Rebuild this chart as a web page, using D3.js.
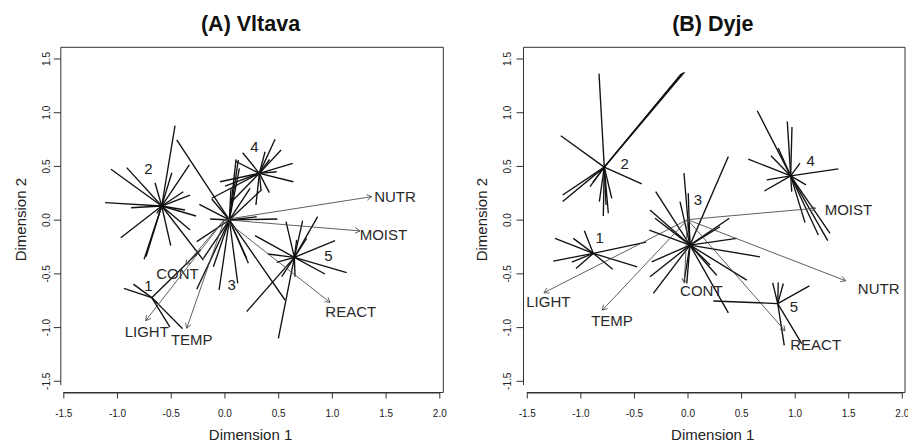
<!DOCTYPE html>
<html>
<head>
<meta charset="utf-8">
<script src="https://cdn.jsdelivr.net/npm/d3@7"></script>
<style>
  html, body { margin: 0; padding: 0; background: #fff; }
  svg { display: block; font-family: "Liberation Sans", Arial, Helvetica, sans-serif; }
</style>
</head>
<body>
<svg id="chart" width="908" height="443"></svg>
<script>
// ---- NMDS ordination: site scores, cluster centroids and fitted environmental vectors ----

const groupNames = ["1", "2", "3", "4", "5"];
const vectorNames = ["NUTR", "MOIST", "REACT", "LIGHT", "TEMP", "CONT"];

const xTicks = [-1.5, -1.0, -0.5, 0.0, 0.5, 1.0, 1.5, 2.0];
const xTickLabels = ["-1.5", "-1.0", "-0.5", "0.0", "0.5", "1.0", "1.5", "2.0"];
const yTicks = [-1.5, -1.0, -0.5, 0.0, 0.5, 1.0, 1.5];
const yTickLabels = ["-1.5", "-1.0", "-0.5", "0.0", "0.5", "1.0", "1.5"];

// (A) Vltava
const vltavaCentroids = [[-0.677, -0.726], [-0.584, 0.127], [0.046, -0.003], [0.325, 0.431], [0.651, -0.351]];
const vltavaSites = [
  [[-0.936, -0.640], [-0.848, -0.600], [-0.507, -1.000], [-0.389, -1.016], [-0.220, -0.280], [-0.620, -0.780]],
  [[-0.460, 0.875], [-1.056, 0.469], [-0.910, 0.484], [-0.327, 0.509], [-0.490, 0.437], [-0.646, 0.344],
   [-0.383, 0.260], [-0.320, 0.229], [-1.111, 0.158], [-0.869, 0.111], [-0.264, 0.034], [-0.367, 0.090],
   [-0.320, -0.096], [-0.196, -0.376], [-0.500, -0.242], [-0.748, -0.369], [-0.730, -0.345], [-0.965, -0.168],
   [-0.630, 0.059]],
  [[-0.444, 0.743], [-0.234, 0.143], [-0.134, 0.006], [0.108, 0.561], [0.061, 0.292], [0.139, 0.478],
   [-0.118, 0.192], [0.347, 0.280], [0.238, 0.290], [0.129, 0.555], [0.493, 0.006], [0.300, 0.027],
   [-0.258, -0.205], [-0.196, -0.360], [-0.258, -0.648], [-0.050, -0.655], [0.124, -0.593], [0.207, -0.360],
   [0.564, -0.748], [-0.103, -0.438], [0.223, -0.406]],
  [[0.471, 0.748], [0.378, 0.632], [0.527, 0.648], [0.170, 0.623], [0.099, 0.546], [0.636, 0.524],
   [0.487, 0.446], [0.641, 0.353], [0.418, 0.251], [0.293, 0.136], [0.340, 0.280], [-0.041, 0.353],
   [0.006, 0.313], [-0.118, 0.199], [0.052, 0.152], [0.420, 0.560]],
  [[0.728, -0.009], [0.868, 0.028], [1.030, -0.195], [1.138, -0.493], [0.936, -0.506], [0.285, -0.149],
   [0.403, -0.320], [0.486, -0.397], [0.573, -0.019], [0.502, -1.105], [0.207, -0.856], [0.533, -0.531],
   [0.657, -0.531], [0.672, -0.189], [0.765, -0.174]]
];
const vltavaGroupLabelXY = [[-0.708, -0.617], [-0.708, 0.478], [0.068, -0.608], [0.279, 0.680], [0.967, -0.338]];
const vltavaVectorHeads = [[1.371, 0.214], [1.262, -0.105], [0.983, -0.770], [-0.733, -0.940], [-0.351, -1.011], [-0.360, -0.420]];
const vltavaVectorLabelXY = [[1.588, 0.214], [1.480, -0.143], [1.176, -0.857], [-0.723, -1.043], [-0.304, -1.120], [-0.438, -0.506]];

// (B) Dyje
const dyjeCentroids = [[-0.879, -0.314], [-0.777, 0.489], [0.023, -0.237], [0.963, 0.407], [0.842, -0.781]];
const dyjeSites = [
  [[-1.237, -0.174], [-1.253, -0.386], [-1.066, -0.174], [-0.963, -0.103], [-1.041, -0.454], [-1.080, -0.395],
   [-0.698, -0.461], [-0.469, -0.439], [-0.387, -0.209]],
  [[-0.826, 1.359], [-0.045, 1.366], [-0.061, 1.355], [-0.028, 1.373], [-1.183, 0.781], [-0.427, 0.333],
   [-1.165, 0.230], [-1.165, 0.168], [-0.910, 0.308], [-0.882, 0.350], [-0.786, 0.034], [-0.739, 0.059],
   [-0.823, 0.168], [-0.707, 0.199], [-0.760, 0.137]],
  [[-0.033, 0.433], [0.007, 0.246], [-0.070, 0.168], [0.381, 0.588], [-0.297, 0.261], [-0.350, 0.090],
   [-0.303, 0.013], [-0.357, -0.097], [0.390, 0.013], [0.459, -0.174], [0.677, -0.346], [0.553, -0.563],
   [0.273, -0.517], [0.381, -0.868], [-0.334, -0.392], [-0.350, -0.532], [-0.319, -0.687], [-0.033, -0.579],
   [-0.007, -0.594], [0.210, -0.423], [0.303, -0.066]],
  [[0.651, 1.014], [0.931, 0.914], [0.975, 0.862], [0.847, 0.666], [0.779, 0.594], [0.567, 0.563],
   [0.739, 0.370], [0.717, 0.267], [1.050, 0.526], [1.408, 0.473], [1.106, 0.323], [1.097, -0.028],
   [1.221, -0.143], [1.309, -0.196], [1.330, -0.127], [0.973, 0.261]],
  [[0.241, -0.757], [0.795, -0.588], [0.847, -0.585], [0.894, -0.594], [1.137, -0.616], [0.903, -1.170],
   [1.066, -1.154]]
];
const dyjeGroupLabelXY = [[-0.820, -0.168], [-0.587, 0.525], [0.098, 0.183], [1.150, 0.550], [0.994, -0.811]];
const dyjeVectorHeads = [[1.476, -0.569], [1.196, 0.106], [0.910, -1.035], [-1.340, -0.680], [-0.795, -0.842], [-0.030, -0.590]];
const dyjeVectorLabelXY = [[1.784, -0.640], [1.502, 0.096], [1.196, -1.162], [-1.299, -0.764], [-0.705, -0.935], [0.129, -0.662]];

// ---- page layout of the two panels ----
const panels = [
  {
    title: "(A) Vltava",
    centroids: vltavaCentroids, sites: vltavaSites, groupLabels: vltavaGroupLabelXY,
    heads: vltavaVectorHeads, vectorLabels: vltavaVectorLabelXY,
    xRange: [63.3, 439.3], yRange: [380.8, 58.5],
    box: { l: 60.8, t: 47.3, r: 443.3, b: 392.5 },
    yTickText: -11, yTitleX: 25.5
  },
  {
    title: "(B) Dyje",
    centroids: dyjeCentroids, sites: dyjeSites, groupLabels: dyjeGroupLabelXY,
    heads: dyjeVectorHeads, vectorLabels: dyjeVectorLabelXY,
    xRange: [526.8, 901.8], yRange: [380.8, 58.5],
    box: { l: 523.5, t: 47.3, r: 905, b: 392.5 },
    yTickText: -13, yTitleX: 486.5
  }
];

const svg = d3.select("#chart");
const ink = "#111";
const axisInk = "#333";

panels.forEach(p => {
  const x = d3.scaleLinear().domain([-1.5, 2.0]).range(p.xRange);
  const y = d3.scaleLinear().domain([-1.5, 1.5]).range(p.yRange);
  const g = svg.append("g");
  const b = p.box;
  const midX = (b.l + b.r) / 2;

  // frame (open at the lower-left corner)
  g.append("path")
    .attr("d", `M${b.l},${b.b - 7.5}V${b.t}H${b.r}V${b.b}H${x(-1.5)}`)
    .attr("fill", "none").attr("stroke", axisInk).attr("stroke-width", 1);

  // x axis
  const xAxis = d3.axisBottom(x).tickValues(xTicks)
    .tickFormat((d, i) => xTickLabels[i]).tickSize(6).tickSizeOuter(0);
  const gx = g.append("g").attr("transform", `translate(0,${b.b})`).call(xAxis);
  gx.select(".domain").attr("stroke", axisInk);
  gx.selectAll(".tick line").attr("stroke", axisInk);
  gx.selectAll(".tick text")
    .attr("y", 24).attr("dy", 0)
    .attr("fill", "#222").attr("font-size", 10)
    .attr("font-family", "Liberation Sans, Arial, sans-serif");

  // y axis, labels rotated parallel to the axis
  const yAxis = d3.axisLeft(y).tickValues(yTicks)
    .tickFormat((d, i) => yTickLabels[i]).tickSize(7).tickSizeOuter(0);
  const gy = g.append("g").attr("transform", `translate(${b.l},0)`).call(yAxis);
  gy.select(".domain").attr("stroke", "none");
  gy.selectAll(".tick line").attr("stroke", axisInk);
  gy.selectAll(".tick text")
    .attr("transform", "rotate(-90)")
    .attr("x", 0).attr("y", p.yTickText).attr("dy", 0)
    .attr("text-anchor", "middle")
    .attr("fill", "#222").attr("font-size", 10)
    .attr("font-family", "Liberation Sans, Arial, sans-serif");

  // titles
  g.append("text").attr("x", midX - 1.5).attr("y", 31)
    .attr("text-anchor", "middle").attr("font-size", 21.5).attr("font-weight", "bold")
    .attr("fill", "#111").text(p.title);
  g.append("text").attr("x", midX - 1.5).attr("y", 440)
    .attr("text-anchor", "middle").attr("font-size", 15).attr("fill", "#222")
    .text("Dimension 1");
  g.append("text")
    .attr("transform", `translate(${p.yTitleX},${y(0)}) rotate(-90)`)
    .attr("text-anchor", "middle").attr("font-size", 15).attr("fill", "#222")
    .text("Dimension 2");

  // spider: each site joined to its cluster centroid
  const spokes = [];
  p.sites.forEach((pts, gi) => {
    const c = p.centroids[gi];
    pts.forEach(s => spokes.push({ c, s }));
  });
  g.append("g").selectAll("line").data(spokes).join("line")
    .attr("x1", d => x(d.c[0])).attr("y1", d => y(d.c[1]))
    .attr("x2", d => x(d.s[0])).attr("y2", d => y(d.s[1]))
    .attr("stroke", ink).attr("stroke-width", 1.35).attr("stroke-linecap", "butt");

  // fitted environmental vectors
  const vec = vectorNames.map((name, i) => ({ name, head: p.heads[i], lab: p.vectorLabels[i] }));
  const vg = g.append("g");
  vg.selectAll("line.shaft").data(vec).join("line").attr("class", "shaft")
    .attr("x1", x(0)).attr("y1", y(0))
    .attr("x2", d => x(d.head[0])).attr("y2", d => y(d.head[1]))
    .attr("stroke", "#444").attr("stroke-width", 0.85);
  vg.selectAll("path.head").data(vec).join("path").attr("class", "head")
    .attr("d", d => {
      const hx = x(d.head[0]), hy = y(d.head[1]);
      const ang = Math.atan2(hy - y(0), hx - x(0));
      const L = 5.5, w = Math.PI / 6;
      const ax = hx - L * Math.cos(ang - w), ay = hy - L * Math.sin(ang - w);
      const bx = hx - L * Math.cos(ang + w), by = hy - L * Math.sin(ang + w);
      return `M${ax},${ay}L${hx},${hy}L${bx},${by}`;
    })
    .attr("fill", "none").attr("stroke", "#444").attr("stroke-width", 0.85);
  vg.selectAll("text").data(vec).join("text")
    .attr("x", d => x(d.lab[0])).attr("y", d => y(d.lab[1]))
    .attr("dy", "0.36em").attr("text-anchor", "middle")
    .attr("font-size", 15).attr("fill", "#2a2a2a")
    .text(d => d.name);

  // cluster numbers
  g.append("g").selectAll("text").data(groupNames).join("text")
    .attr("x", (d, i) => x(p.groupLabels[i][0])).attr("y", (d, i) => y(p.groupLabels[i][1]))
    .attr("dy", "0.36em").attr("text-anchor", "middle")
    .attr("font-size", 15).attr("fill", "#222")
    .text(d => d);
});
</script>
</body>
</html>
